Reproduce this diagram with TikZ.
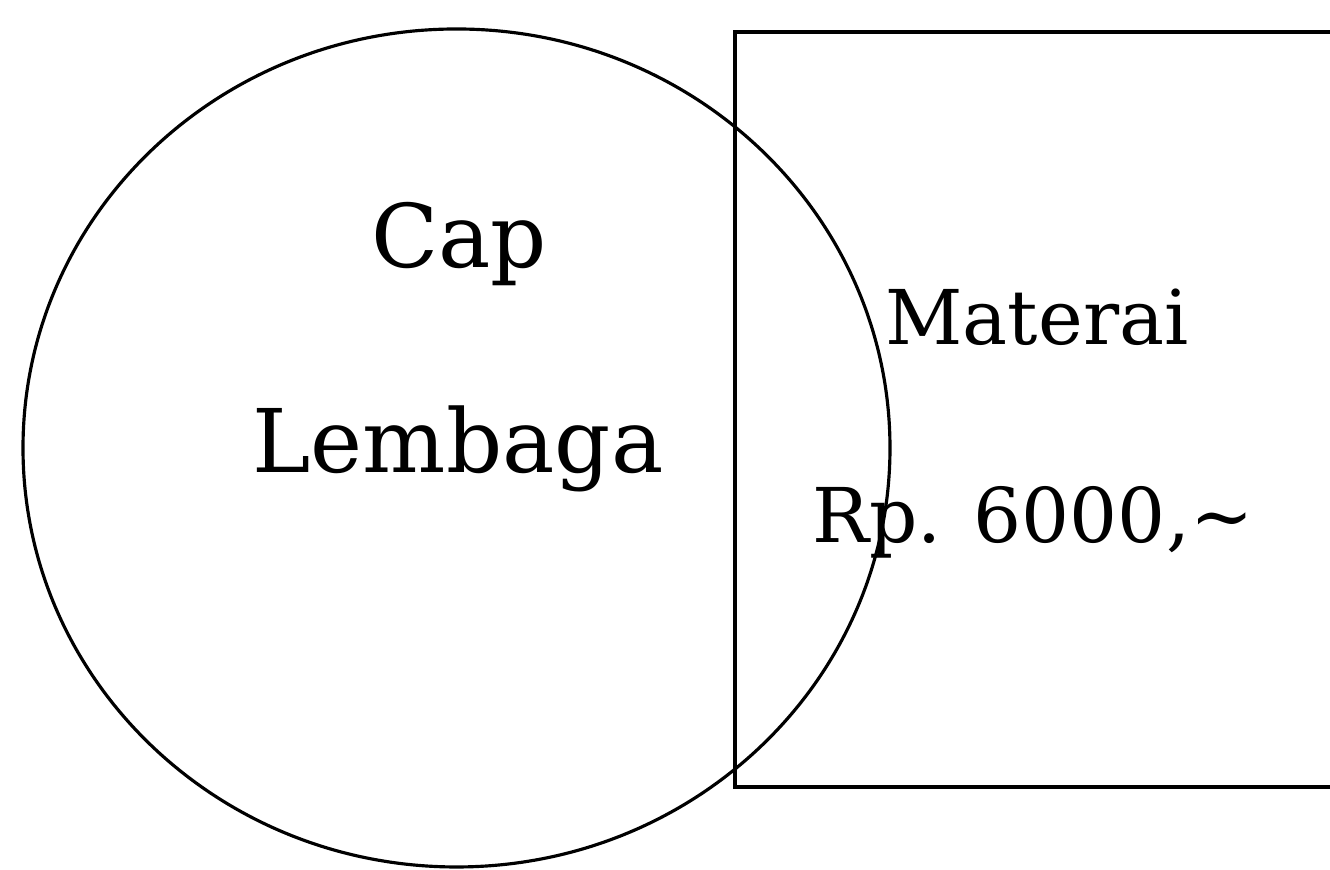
\documentclass[tikz,border=0pt]{standalone}
\usepackage{fontspec}
\setmainfont{DejaVu Serif}
\usetikzlibrary{positioning}

\begin{document}
\begin{tikzpicture}
    \useasboundingbox (0,0) rectangle (13.3,8.7);
    \clip (0,0) rectangle (13.3,8.7);
    \tikzset{stamptext/.style={anchor=base, inner sep=0pt, font=\fontsize{25}{30}\selectfont},
             stamptextsmall/.style={anchor=base, inner sep=0pt, font=\fontsize{21.5}{26}\selectfont}}

    % cap lembaga
    \draw[black,line width=0.9pt] (4.565,4.22) ellipse (4.335cm and 4.19cm);
    \node[stamptext] (cap) at (4.59,6.02) {Cap};
    \node[stamptext] (lembaga) at (4.58,3.97) {Lembaga};

    % materai
    \draw[black,line width=0.9pt] (13.6,8.38) -- (7.35,8.38) -- (7.35,0.83) -- (13.6,0.83);
    \node[stamptextsmall] (materai) at (10.37,5.25) {Materai};
    \node[stamptextsmall] (harga) at (10.33,3.27) {Rp. 6000,\textasciitilde};

\end{tikzpicture}
\end{document}
